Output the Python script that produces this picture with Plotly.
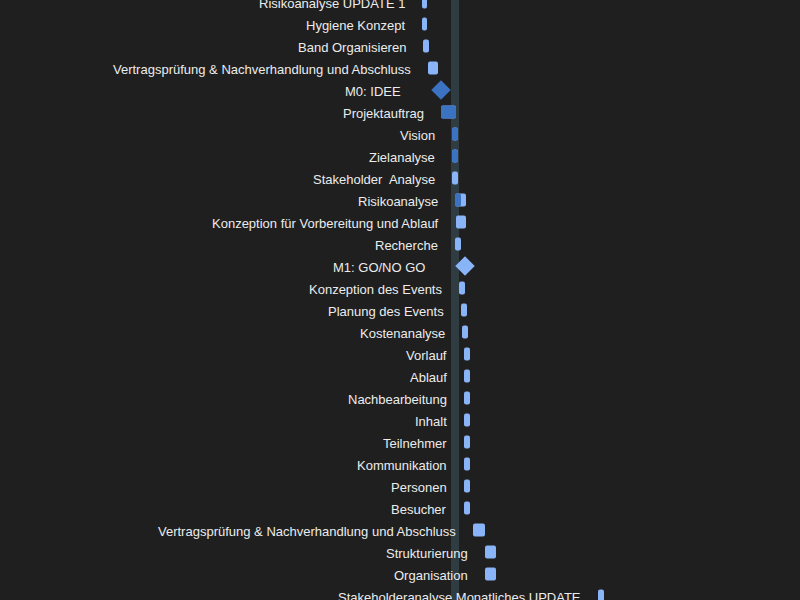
import plotly.graph_objects as go

# Gantt rows, top to bottom (day offsets on an arbitrary project timeline)
tasks = [
    "Risikoanalyse UPDATE 1", "Hygiene Konzept", "Band Organisieren",
    "Vertragsprüfung & Nachverhandlung und Abschluss", "M0: IDEE", "Projektauftrag",
    "Vision", "Zielanalyse", "Stakeholder  Analyse", "Risikoanalyse",
    "Konzeption für Vorbereitung und Ablauf", "Recherche", "M1: GO/NO GO",
    "Konzeption des Events", "Planung des Events", "Kostenanalyse", "Vorlauf", "Ablauf",
    "Nachbearbeitung", "Inhalt", "Teilnehmer", "Kommunikation", "Personen", "Besucher",
    "Vertragsprüfung & Nachverhandlung und Abschluss", "Strukturierung", "Organisation",
    "Stakeholderanalyse Monatliches UPDATE",
]
start = [22, 22, 23, 28, 41, 41, 52, 52, 52, 55, 56, 55, 65, 59, 61, 62,
         64, 64, 64, 64, 64, 64, 64, 64, 73, 85, 85, 198]
duration = [5, 5, 6, 10, 0, 15, 6, 6, 6, 11, 10, 6, 0, 6, 6, 6,
            6, 6, 6, 6, 6, 6, 6, 6, 12, 11, 11, 6]
progress = [0, 0, 0, 0, 1, 15, 6, 6, 0, 6, 0, 0, 0, 0, 0, 0,
            0, 0, 0, 0, 0, 0, 0, 0, 0, 0, 0, 0]
milestone = [t.startswith("M0") or t.startswith("M1") for t in tasks]
today_from, today_to = 51, 59

LIGHT = "#8ab4f8"
DARK = "#3b72c2"

rows = list(range(len(tasks)))
bar_rows = [i for i in rows if not milestone[i]]
ms_rows = [i for i in rows if milestone[i]]

fig = go.Figure()

# task bars (remaining part)
fig.add_trace(go.Bar(
    y=bar_rows, x=[duration[i] for i in bar_rows], base=[start[i] for i in bar_rows],
    orientation="h", width=0.6,
    marker=dict(color=LIGHT, cornerradius=2, line=dict(width=0)),
))
# progress overlay
prog_rows = [i for i in bar_rows if progress[i] > 0]
fig.add_trace(go.Bar(
    y=prog_rows, x=[progress[i] for i in prog_rows], base=[start[i] for i in prog_rows],
    orientation="h", width=0.6,
    marker=dict(color=DARK, cornerradius=2, line=dict(width=0)),
))
# milestones
fig.add_trace(go.Scatter(
    y=ms_rows, x=[start[i] for i in ms_rows], mode="markers",
    marker=dict(symbol="diamond", size=15,
                color=[DARK if progress[i] else LIGHT for i in ms_rows],
                line=dict(width=0)),
))

# labels left of the bars
for i in rows:
    fig.add_annotation(
        x=start[i], y=i, text=tasks[i], showarrow=False,
        xanchor="right", yanchor="middle",
        xshift=-38 if milestone[i] else -15, yshift=-1,
        font=dict(color="#ececec", size=13, family="Liberation Sans"),
    )

# today marker band
fig.add_shape(type="rect", xref="x", yref="paper", x0=today_from, x1=today_to,
              y0=0, y1=1, fillcolor="#2f3d43", line=dict(width=0), layer="below")

fig.update_layout(
    width=800, height=600,
    margin=dict(l=0, r=0, t=0, b=0),
    paper_bgcolor="#1f1f1f", plot_bgcolor="#1f1f1f",
    barmode="overlay", showlegend=False,
)
fig.update_xaxes(range=[-400, 400], visible=False)
fig.update_yaxes(range=[(600 - 2) / 22, -2 / 22], visible=False)

fig.write_html("out.html", config={"displayModeBar": False},
               post_script="document.body.style.margin='0';")
